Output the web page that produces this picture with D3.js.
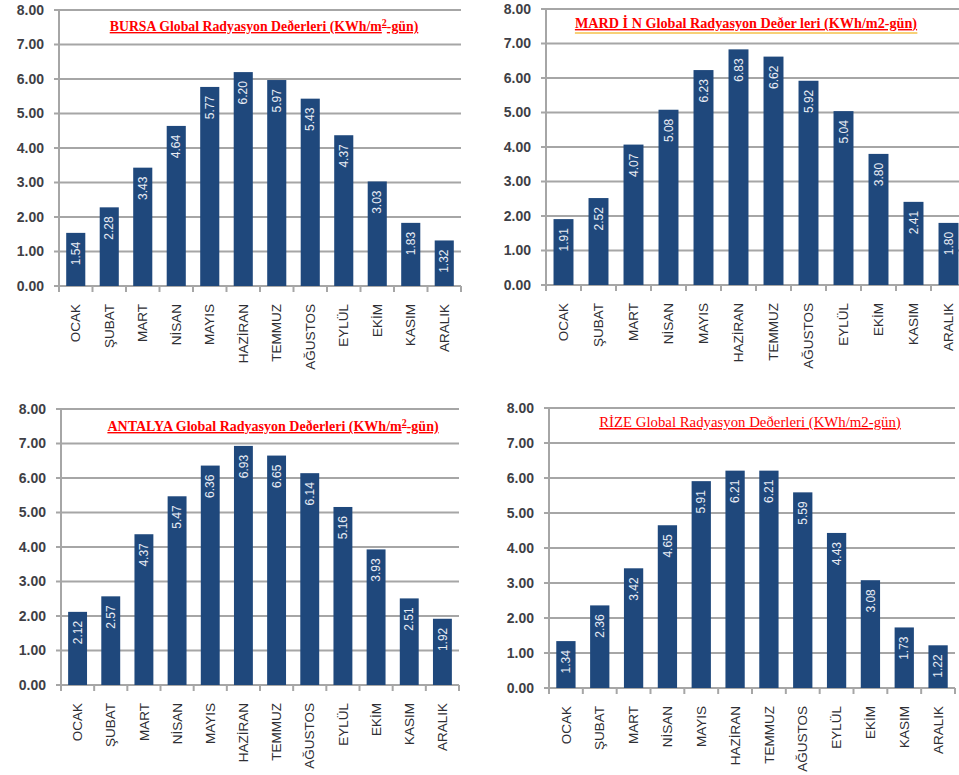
<!DOCTYPE html>
<meta charset="utf-8">
<body style="margin:0;background:#fff">
<script src="https://d3js.org/d3.v7.min.js"></script>
<script>

var months = ["OCAK", "ŞUBAT", "MART", "NİSAN", "MAYIS", "HAZİRAN", "TEMMUZ", "AĞUSTOS", "EYLÜL", "EKİM", "KASIM", "ARALIK"];
var yTicks = [0, 1, 2, 3, 4, 5, 6, 7, 8];

var bursa   = [1.54, 2.28, 3.43, 4.64, 5.77, 6.20, 5.97, 5.43, 4.37, 3.03, 1.83, 1.32];
var mardin  = [1.91, 2.52, 4.07, 5.08, 6.23, 6.83, 6.62, 5.92, 5.04, 3.80, 2.41, 1.80];
var antalya = [2.12, 2.57, 4.37, 5.47, 6.36, 6.93, 6.65, 6.14, 5.16, 3.93, 2.51, 1.92];
var rize    = [1.34, 2.36, 3.42, 4.65, 5.91, 6.21, 6.21, 5.59, 4.43, 3.08, 1.73, 1.22];

var titles = [
  {head: "BURSA Global Radyasyon Deðerleri (KWh/m", sup: "2", tail: "-gün)"},
  {head: "MARD İ N Global Radyasyon Deðer leri (KWh/m2-gün)", sup: "", tail: ""},
  {head: "ANTALYA Global Radyasyon Deðerleri (KWh/m", sup: "2", tail: "-gün)"},
  {head: "RİZE Global Radyasyon Deðerleri (KWh/m2-gün)", sup: "", tail: ""}
];

var panels = [
  {data: bursa,   title: titles[0], x0: 59,  x1: 461, yTop: 10,  yZero: 286, tx: 264, ty: 31,  bold: true,  fs: 13.8},
  {data: mardin,  title: titles[1], x0: 546, x1: 966, yTop: 9,   yZero: 285, tx: 746, ty: 28,  bold: true,  fs: 14.2, yellow: true},
  {data: antalya, title: titles[2], x0: 61,  x1: 459, yTop: 409, yZero: 685, tx: 273, ty: 431, bold: true,  fs: 14},
  {data: rize,    title: titles[3], x0: 549, x1: 955, yTop: 408, yZero: 688, tx: 750, ty: 427, bold: false, fs: 14.8}
];

var barColor = "#1f487c",
    gridColor = "#a6a6a6";

var svg = d3.select("body").append("svg")
    .attr("width", 959)
    .attr("height", 775);

panels.forEach(function(p) {
  var g = svg.append("g");

  var x = d3.scaleBand()
      .domain(months)
      .range([p.x0, p.x1])
      .paddingInner(0.43)
      .paddingOuter(0.215);

  var y = d3.scaleLinear()
      .domain([0, 8])
      .range([p.yZero, p.yTop]);

  // gridlines
  g.selectAll(".grid")
    .data(yTicks)
    .enter().append("line")
      .attr("x1", p.x0 - 5)
      .attr("x2", p.x1)
      .attr("y1", function(d) { return y(d); })
      .attr("y2", function(d) { return y(d); })
      .attr("stroke", gridColor)
      .attr("stroke-width", 2);

  // y axis line
  g.append("line")
    .attr("x1", p.x0).attr("x2", p.x0)
    .attr("y1", y(8)).attr("y2", y(0) + 6)
    .attr("stroke", gridColor)
    .attr("stroke-width", 2);

  // x tick marks at band edges
  var step = x.step();
  g.selectAll(".xtick")
    .data(d3.range(months.length + 1))
    .enter().append("line")
      .attr("x1", function(i) { return p.x0 + i * step; })
      .attr("x2", function(i) { return p.x0 + i * step; })
      .attr("y1", y(0))
      .attr("y2", y(0) + 6)
      .attr("stroke", gridColor)
      .attr("stroke-width", 2);

  // y labels
  g.selectAll(".ylab")
    .data(yTicks)
    .enter().append("text")
      .attr("x", p.x0 - 15)
      .attr("y", function(d) { return y(d); })
      .attr("dy", "0.35em")
      .attr("text-anchor", "end")
      .style("font", "bold 14px 'Liberation Sans', Arial, sans-serif")
      .style("fill", "#3f3f46")
      .text(function(d) { return d3.format(".2f")(d); });

  // bars
  g.selectAll(".bar")
    .data(p.data)
    .enter().append("rect")
      .attr("x", function(d, i) { return x(months[i]); })
      .attr("y", function(d) { return y(d); })
      .attr("width", x.bandwidth())
      .attr("height", function(d) { return y(0) - y(d); })
      .attr("fill", barColor);

  // value labels inside bars
  g.selectAll(".val")
    .data(p.data)
    .enter().append("text")
      .attr("transform", function(d, i) {
        return "translate(" + (x(months[i]) + x.bandwidth() / 2) + "," + (y(d) + 9) + ") rotate(-90)";
      })
      .attr("dy", "0.35em")
      .attr("text-anchor", "end")
      .style("font", "12px 'Liberation Sans', Arial, sans-serif")
      .style("fill", "#e8ecf4")
      .text(function(d) { return d3.format(".2f")(d); });

  // month labels
  g.selectAll(".mlab")
    .data(months)
    .enter().append("text")
      .attr("transform", function(d) {
        return "translate(" + (x(d) + x.bandwidth() / 2) + "," + (y(0) + 18) + ") rotate(-90)";
      })
      .attr("dy", "0.35em")
      .attr("text-anchor", "end")
      .style("font", "13.5px 'Liberation Sans', Arial, sans-serif")
      .style("fill", "#2e2e33")
      .text(function(d) { return d; });

  // title
  var t = g.append("text")
      .attr("x", p.tx)
      .attr("y", p.ty)
      .attr("text-anchor", "middle")
      .style("font", (p.bold ? "bold " : "") + p.fs + "px 'Liberation Serif', 'Times New Roman', serif")
      .style("fill", "#ff0000")
      .style("text-decoration", "underline");
  t.append("tspan").text(p.title.head);
  if (p.title.sup) {
    t.append("tspan").attr("dy", -5).style("font-size", "10px").text(p.title.sup);
    t.append("tspan").attr("dy", 5).text(p.title.tail);
  }
  if (p.yellow) {
    var bb = t.node().getBBox();
    g.append("line")
      .attr("x1", bb.x).attr("x2", bb.x + bb.width)
      .attr("y1", p.ty + 5).attr("y2", p.ty + 5)
      .attr("stroke", "#f5c04a")
      .attr("stroke-width", 1.5);
  }
});

</script>
